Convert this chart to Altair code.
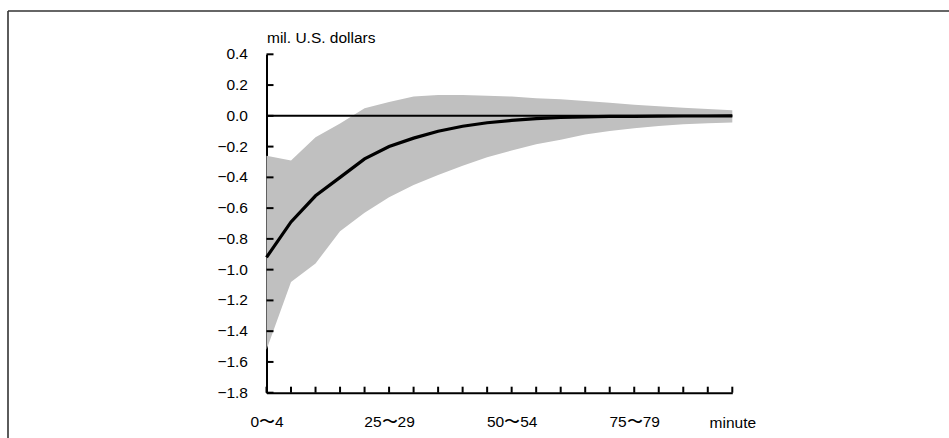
import altair as alt
import pandas as pd

# ---- data ----
categories = ["0〜4", "5〜9", "10〜14", "15〜19", "20〜24", "25〜29", "30〜34", "35〜39",
              "40〜44", "45〜49", "50〜54", "55〜59", "60〜64", "65〜69", "70〜74", "75〜79",
              "80〜84", "85〜89", "90〜94", "95〜99"]
mean = [-0.92, -0.69, -0.52, -0.40, -0.28, -0.20, -0.145, -0.10, -0.068, -0.045,
        -0.030, -0.018, -0.011, -0.007, -0.004, -0.003, -0.002, -0.001, -0.001, 0.0]
upper = [-0.26, -0.29, -0.14, -0.05, 0.05, 0.09, 0.125, 0.135, 0.135, 0.13,
         0.125, 0.115, 0.107, 0.097, 0.085, 0.072, 0.062, 0.052, 0.044, 0.037]
lower = [-1.52, -1.08, -0.96, -0.75, -0.63, -0.53, -0.45, -0.385, -0.325, -0.27,
         -0.225, -0.185, -0.155, -0.122, -0.098, -0.080, -0.066, -0.055, -0.048, -0.043]
x_label_idx = [0, 5, 10, 15]
y_ticks = [0.4, 0.2, 0.0, -0.2, -0.4, -0.6, -0.8, -1.0, -1.2, -1.4, -1.6, -1.8]
y_tick_labels = [f"{v:.1f}".replace("-", "−") for v in y_ticks]
y_title = "mil. U.S. dollars"
x_title = "minute"

df = pd.DataFrame({"i": list(range(len(categories))), "cat": categories,
                   "mean": mean, "upper": upper, "lower": lower})
ytick_df = pd.DataFrame({"v": y_ticks, "label": y_tick_labels})

W, H = 465.8, 338.4
PL, PT = 266.5, 54.3
FONT = "Liberation Sans"
FS = 15.5

label_array = "[" + ",".join("'" + c + "'" for c in categories) + "]"

xs = alt.Scale(domain=[0, len(categories) - 1], nice=False, zero=False)
ys = alt.Scale(domain=[-1.8, 0.4], nice=False, zero=False)

base = alt.Chart(df)

band = base.mark_area(color="#c0c0c0", opacity=1).encode(
    x=alt.X("i:Q", scale=xs,
            axis=alt.Axis(values=x_label_idx, ticks=False, tickSize=0, grid=False,
                          domainColor="black", domainWidth=2,
                          labelExpr=label_array + "[datum.value]",
                          labelFont=FONT, labelFontSize=FS, labelColor="black",
                          labelPadding=21.5, labelFlush=False, labelOverlap=False,
                          title=x_title, titleFont=FONT, titleFontSize=FS,
                          titleFontWeight="normal", titleColor="black",
                          titleX=W, titleY=34.5, titleAlign="center",
                          titleBaseline="alphabetic")),
    y=alt.Y("lower:Q", scale=ys,
            axis=alt.Axis(ticks=False, labels=False, grid=False,
                          domainColor="black", domainWidth=2,
                          title=y_title, titleFont=FONT, titleFontSize=FS,
                          titleFontWeight="normal", titleColor="black",
                          titleAngle=0, titleX=0, titleY=-11.6, titleAlign="left",
                          titleBaseline="alphabetic")),
    y2="upper:Q",
)

zero = alt.Chart(alt.Data(values=[{"z": 0}])).mark_rule(color="black", strokeWidth=2).encode(
    y=alt.Y("z:Q", scale=ys), x=alt.value(0), x2=alt.value(W)
)

line = base.mark_line(color="black", strokeWidth=3.2).encode(
    x=alt.X("i:Q", scale=xs), y=alt.Y("mean:Q", scale=ys)
)

yticks = alt.Chart(ytick_df).mark_rule(color="black", strokeWidth=2).encode(
    y=alt.Y("v:Q", scale=ys), x=alt.value(0), x2=alt.value(7)
)
ylabels = alt.Chart(ytick_df).mark_text(
    align="right", baseline="middle", font=FONT, fontSize=FS, color="black", dx=-18.5
).encode(
    y=alt.Y("v:Q", scale=ys), x=alt.value(0), text="label:N"
)
xticks = base.mark_rule(color="black", strokeWidth=2).encode(
    x=alt.X("i:Q", scale=xs), y=alt.value(H), y2=alt.value(H - 6)
)

frame_left = alt.Chart(alt.Data(values=[{}])).mark_rule(color="#333333", strokeWidth=1.6).encode(
    x=alt.value(8 - PL), y=alt.value(11 - PT), y2=alt.value(460 - PT)
)
frame_top = alt.Chart(alt.Data(values=[{}])).mark_rule(color="#333333", strokeWidth=1.6).encode(
    x=alt.value(8 - PL), x2=alt.value(960 - PL), y=alt.value(11 - PT)
)

chart = alt.layer(band, zero, line, yticks, ylabels, xticks, frame_left, frame_top).properties(
    width=W, height=H,
    padding={"left": PL, "top": PT, "right": 949 - PL - W, "bottom": 438 - PT - H},
    autosize=alt.AutoSizeParams(type="none"),
    background="white",
).configure_view(stroke=None).configure_axis(grid=False)

chart.save("out.html", embed_options={"renderer": "svg", "actions": False})
